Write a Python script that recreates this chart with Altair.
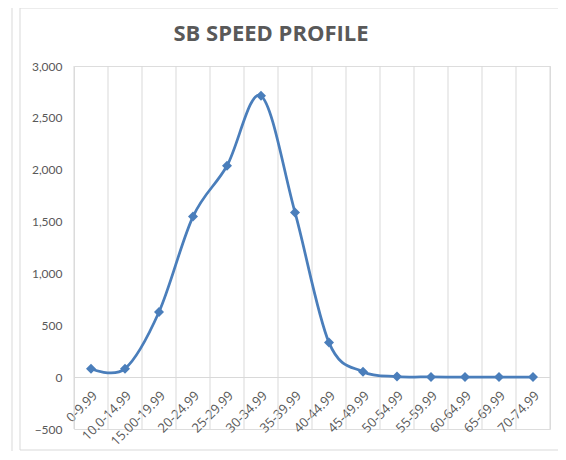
import altair as alt
import pandas as pd

categories = ["0-9.99", "10.0-14.99", "15.00-19.99", "20-24.99", "25-29.99",
              "30-34.99", "35-39.99", "40-44.99", "45-49.99", "50-54.99",
              "55-59.99", "60-64.99", "65-69.99", "70-74.99"]
counts = [80, 82, 628, 1548, 2038, 2712, 1588, 333, 52, 6, 2, 1, 1, 1]
y_ticks = [-500, 0, 500, 1000, 1500, 2000, 2500, 3000]

df = pd.DataFrame({"range": categories, "count": counts})
last = pd.DataFrame({"range": [categories[-1]]})

W, H = 476, 363
BLUE = "#4A7EBB"
GRID = "#D9D9D9"
LABEL = "#595959"

xscale = alt.Scale(domain=categories, paddingInner=0, paddingOuter=0)
yscale = alt.Scale(domain=[-500, 3000], nice=False)

xaxis = alt.Axis(labelAngle=-45, offset=-52, domainColor=GRID, domainWidth=1,
                 ticks=False, grid=False, title=None, labelFont="Open Sans",
                 labelFontSize=13, labelColor=LABEL, labelPadding=12)
yaxis = alt.Axis(values=y_ticks, format=",.0f", grid=False, domain=False, ticks=False,
                 labelPadding=12, labelFont="Lato", labelFontSize=12,
                 labelColor=LABEL, title=None)


def X(bp=None):
    if bp is None:
        return alt.X("range:N", scale=xscale, sort=categories, axis=xaxis)
    return alt.X("range:N", scale=xscale, sort=categories, axis=xaxis, bandPosition=bp)


Y = alt.Y("count:Q", scale=yscale, axis=yaxis)

grid = alt.Chart(df).mark_rule(color=GRID, strokeWidth=1).encode(
    x=X(0), y=alt.value(0), y2=alt.value(H))
grid_end = alt.Chart(last).mark_rule(color=GRID, strokeWidth=1).encode(
    x=X(1), y=alt.value(0), y2=alt.value(H))

frame_style = dict(color=GRID, strokeWidth=1)
frame_left = alt.Chart(last).mark_rule(**frame_style).encode(
    x=alt.value(-54), y=alt.value(-58), y2=alt.value(384))
frame_outer = alt.Chart(last).mark_rule(**frame_style).encode(
    x=alt.value(-62), y=alt.value(-58), y2=alt.value(386))
frame_top = alt.Chart(last).mark_rule(**frame_style).encode(
    x=alt.value(-54), x2=alt.value(484), y=alt.value(-58))
frame_bottom = alt.Chart(last).mark_rule(**frame_style).encode(
    x=alt.value(-54), x2=alt.value(484), y=alt.value(384))

line = alt.Chart(df).mark_line(interpolate="cardinal", color=BLUE, strokeWidth=2.75).encode(
    x=X(), y=Y)
points = alt.Chart(df).mark_point(shape="diamond", filled=True, size=100, color=BLUE,
                                  opacity=1).encode(x=X(), y=Y)

chart = alt.layer(frame_left, frame_outer, frame_top, frame_bottom,
                  grid, grid_end, line, points).properties(
    width=W, height=H,
    title=alt.TitleParams("SB SPEED PROFILE", font="Open Sans", fontSize=22,
                          fontWeight="bold", color=LABEL, anchor="middle",
                          dx=-41, offset=-55, baseline="alphabetic"),
    autosize=alt.AutoSizeParams(type="none"),
    padding={"left": 66, "top": 58, "right": 8, "bottom": 22},
).configure_view(stroke=None).configure(background="white")

chart.save("out.html", embed_options={"renderer": "svg", "actions": False})
